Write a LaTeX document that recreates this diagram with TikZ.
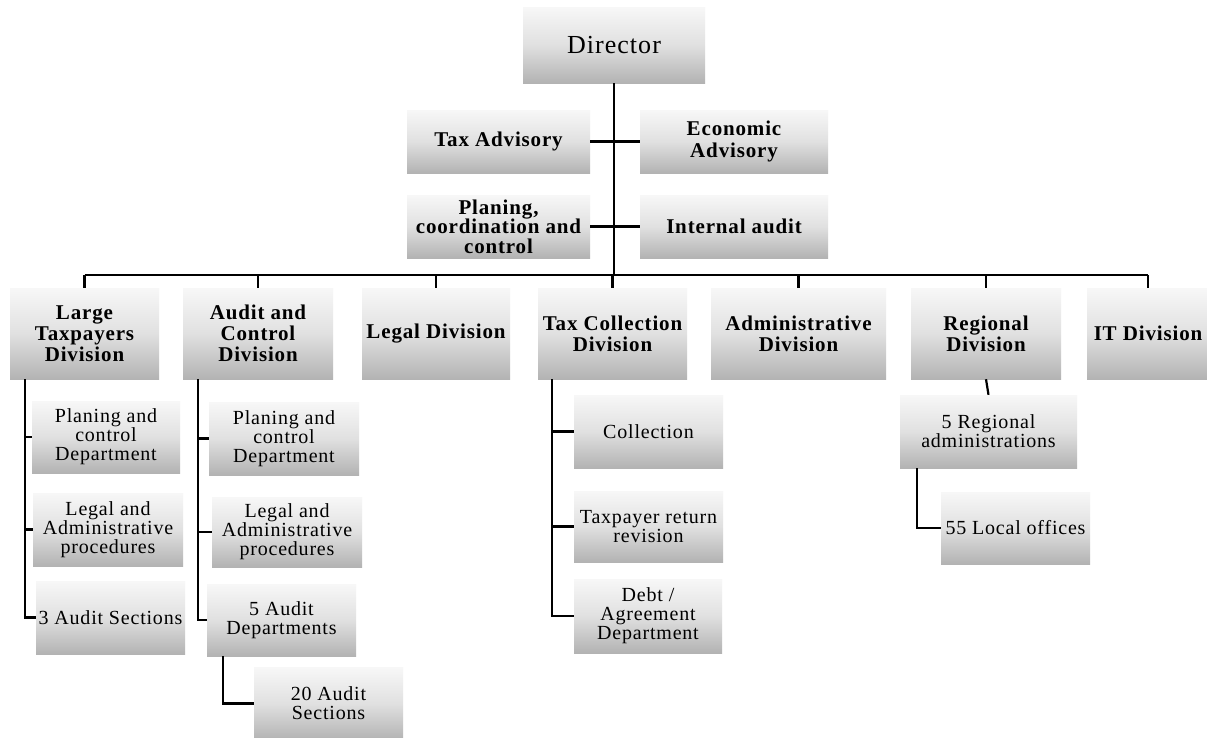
\documentclass[tikz,border=0pt]{standalone}
\usepackage{fontspec}
\setmainfont{Liberation Serif}[LetterSpace=4]
\begin{document}
\begin{tikzpicture}[x=1pt,y=-1pt,
  box/.style={top color=white!97!black, bottom color=black!30, middle color=white!88!black, inner sep=0pt, align=center},
  sz/.style 2 args={minimum width=#1pt, minimum height=#2pt},
  hd/.style={box, font=\bfseries\fontsize{21}{21}\selectfont},
  adv/.style={box, font=\bfseries\fontsize{21}{19.5}\selectfont},
  sub/.style={box, font=\fontsize{20}{19}\selectfont},
  ln/.style={line width=2.8pt, black},
  bus/.style={line width=2.2pt, black}]
\clip (0,0) rectangle (1207,737);
\fill[white] (0,0) rectangle (1207,737);
% top
\node[box, font=\fontsize{26}{28}\selectfont, sz={182}{76}] (dir) at (614,45) {Director};
\node[adv, sz={183}{63}] (tax) at (498.5,141.5) {Tax Advisory};
\node[adv, sz={188}{63}, font=\bfseries\fontsize{21}{22}\selectfont] (eco) at (734,141.5) {Economic\\Advisory};
\node[adv, sz={183}{63}] (plan) at (498.5,226.5) {Planing,\\coordination and\\control};
\node[adv, sz={188}{63}] (ia) at (734,226.5) {Internal audit};
% divisions
\node[hd, sz={149}{91}] (lt) at (84.5,333.5) {Large\\Taxpayers\\Division};
\node[hd, sz={150}{91}] (ac) at (258,333.5) {Audit and\\Control\\Division};
\node[hd, sz={148}{91}] (lg) at (436,333.5) {Legal Division};
\node[hd, sz={149}{91}] (tc) at (612.5,333.5) {Tax Collection\\Division};
\node[hd, sz={175}{91}] (ad) at (798.5,333.5) {Administrative\\Division};
\node[hd, sz={150}{91}] (rg) at (986,333.5) {Regional\\Division};
\node[hd, sz={122}{91}] (it) at (1148,333.5) {IT Division};
% large taxpayers children
\node[sub, sz={148}{72}] (lt1) at (106,437) {Planing and\\control\\Department};
\node[sub, sz={150}{73}] (lt2) at (108,529.5) {Legal and\\Administrative\\procedures};
\node[sub, sz={149}{73}] (lt3) at (110.5,617.5) {3 Audit Sections};
% audit and control children
\node[sub, sz={150}{73}] (ac1) at (284,438.5) {Planing and\\control\\Department};
\node[sub, sz={150}{70}] (ac2) at (287,532) {Legal and\\Administrative\\procedures};
\node[sub, sz={149}{72}] (ac3) at (281.5,620) {5 Audit\\Departments};
\node[sub, sz={149}{73}] (ac4) at (328.5,703.5) {20 Audit\\Sections};
% tax collection children
\node[sub, sz={149}{73}] (tc1) at (648.5,431.5) {Collection};
\node[sub, sz={149}{71}] (tc2) at (648.5,526.5) {Taxpayer return\\revision};
\node[sub, sz={148}{74}] (tc3) at (648,616) {Debt /\\Agreement\\Department};
% regional children
\node[sub, sz={177}{73}] (rg1) at (988.5,431.5) {5 Regional\\administrations};
\node[sub, sz={149}{72}] (rg2) at (1015.5,528) {55 Local offices};
% connectors top
\coordinate (busc) at (614,275);
\draw[ln] (dir.south) -- (busc);
\draw[ln] (tax.east) -- (eco.west);
\draw[ln] (plan.east) -- (ia.west);
\draw[bus] (lt.north |- busc) -- (it.north |- busc);
\foreach \n in {lt,ac,lg,tc,ad,rg,it} \draw[bus] (\n.north |- busc) -- (\n.north);
% LT spine
\coordinate (lts) at (25,379);
\draw[ln] (lts) |- (lt3.west);
\draw[ln] (lt1.west -| lts) -- (lt1.west);
\draw[ln] (lt2.west -| lts) -- (lt2.west);
% AC spine
\coordinate (acs) at (198,379);
\draw[ln] (acs) |- (ac3.west);
\draw[ln] (ac1.west -| acs) -- (ac1.west);
\draw[ln] (ac2.west -| acs) -- (ac2.west);
\coordinate (ac3s) at (223,656);
\draw[ln] (ac3s) |- (ac4.west);
% TC spine
\coordinate (tcs) at (552,379);
\draw[ln] (tcs) |- (tc3.west);
\draw[ln] (tc1.west -| tcs) -- (tc1.west);
\draw[ln] (tc2.west -| tcs) -- (tc2.west);
% Regional
\draw[bus] (rg.south) -- (rg1.north);
\coordinate (rgs) at (917,468);
\draw[ln] (rgs) |- (rg2.west);
\end{tikzpicture}
\end{document}
